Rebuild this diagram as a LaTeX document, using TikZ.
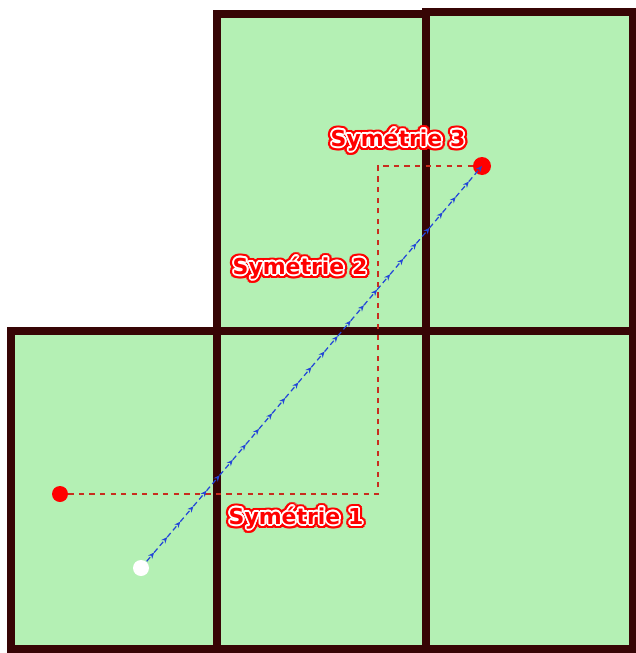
\documentclass[tikz,border=0pt]{standalone}
\usepackage{fontspec}
\setsansfont{DejaVu Sans}
\usepackage{xcolor}
\usepackage{tikz}
\usepackage{contour}
\usetikzlibrary{arrows.meta, calc}
\definecolor{panelgreen}{RGB}{180,240,180}
\definecolor{framebrown}{RGB}{55,5,5}
\definecolor{tracered}{RGB}{200,45,30}
\definecolor{moveblue}{RGB}{35,70,215}
\newcommand{\glowlabel}[1]{\makebox[0pt][l]{\contourlength{2.4pt}\contour{red}{#1}}{\contourlength{1pt}\contour{white}{#1}}}
\tikzstyle{panel} = [fill=panelgreen, draw=framebrown, line width=4.5pt]
\tikzstyle{reddot} = [circle, fill=red, inner sep=0pt, minimum size=0.32cm]
\tikzstyle{whitedot} = [circle, fill=white, inner sep=0pt, minimum size=0.32cm]
\tikzstyle{symlabel} = [font=\sffamily\bfseries\fontsize{12.5}{14}\selectfont, text=red, inner sep=0pt]
\tikzstyle{trace} = [draw=tracered, dashed, line width=0.6pt]
\tikzstyle{move} = [draw=moveblue, densely dashed, line width=0.7pt, -{Stealth[length=3.5pt,width=3pt]}]

\begin{document}
\begin{tikzpicture}[x=0.02cm, y=-0.02cm]
	\useasboundingbox (0,0) rectangle (636,653);
	% the five squares
	\draw [panel] (217,14) rectangle (426,331);
	\draw [panel] (426,12) rectangle (633,331);
	\draw [panel] (11,331) rectangle (217,649);
	\draw [panel] (217,331) rectangle (426,649);
	\draw [panel] (426,331) rectangle (633,649);

	\node (p1) [reddot] at (60,494) {};
	\node (p3) [reddot, minimum size=0.36cm] at (482,166) {};
	\coordinate (c1) at (378,494);
	\coordinate (c2) at (378,166);
	\coordinate (p0) at (141,568);

	\draw [trace] (p1) -- (c1) -- (c2) -- (p3);
	\foreach \i [evaluate=\i as \a using (\i-1)/26, evaluate=\i as \b using \i/26] in {1,...,26}
		\draw [move] ($(p0)!\a!(p3.center)$) -- ($(p0)!\b!(p3.center)$);
	\node (p0dot) [whitedot] at (p0) {};

	\node (s1) [symlabel] at (296,520) {\glowlabel{Symétrie 1}};
	\node (s2) [symlabel] at (300,270) {\glowlabel{Symétrie 2}};
	\node (s3) [symlabel] at (398,142) {\glowlabel{Symétrie 3}};
\end{tikzpicture}
\end{document}
